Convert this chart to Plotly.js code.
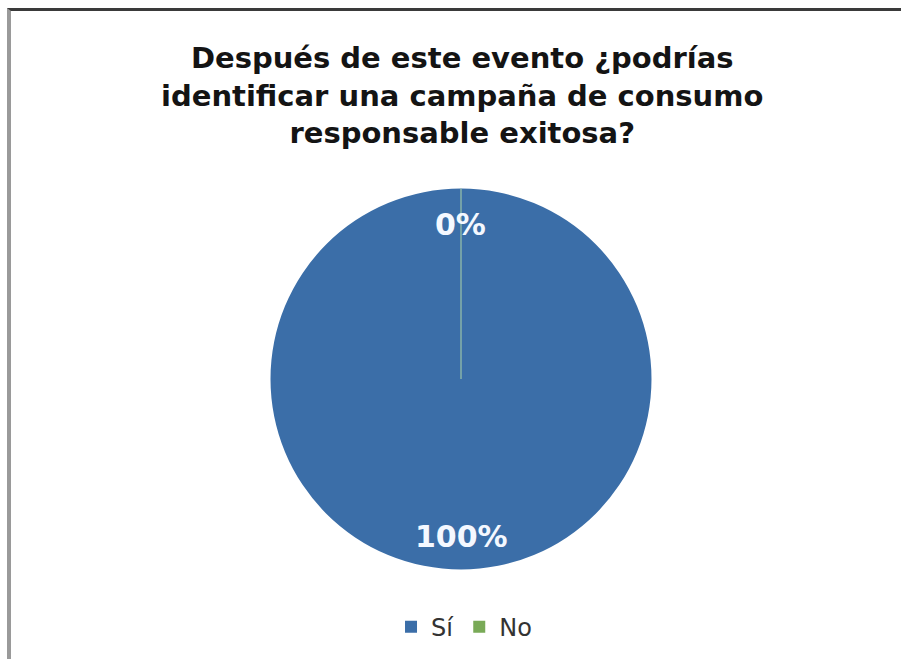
<!DOCTYPE html>
<html>
<head>
<meta charset="utf-8">
<script src="https://cdn.plot.ly/plotly-3.0.1.min.js"></script>
<style>
html,body{margin:0;padding:0;background:#fff;}
#frame{position:absolute;left:7px;top:8px;width:894px;height:651px;border-top:3px solid #3a3a3a;border-left:4px solid #9a9a9a;box-sizing:border-box;}
#chart{position:absolute;left:0;top:0;width:901px;height:659px;}
</style>
</head>
<body>
<div id="chart"></div>
<div id="frame"></div>
<script>
const titleText = 'Después de este evento ¿podrías<br>identificar una campaña de consumo<br>responsable exitosa?';
const labels = ['Sí', 'No'];
const values = [100, 0];
const colors = ['#3b6ea8', '#79aa57'];

const W = 901, H = 659;
const cx = 461, cy = 379, R = 190.5;
const domX = [(cx - R) / W, (cx + R) / W];
const domY = [1 - (cy + R) / H, 1 - (cy - R) / H];
const FONT = 'DejaVu Sans, Liberation Sans, Arial, sans-serif';

const total = values.reduce((a, b) => a + b, 0);
const annotations = [];
let acc = 0;
values.forEach((v, i) => {
  const frac = v / total;
  const mid = (acc + frac / 2) * 2 * Math.PI; // clockwise from top
  acc += frac;
  const rr = 0.82 * R;
  const px = cx + rr * Math.sin(mid);
  const py = cy - rr * Math.cos(mid);
  annotations.push({
    x: px / W, y: 1 - (py + 1.5) / H, xref: 'paper', yref: 'paper',
    text: Math.round(frac * 100) + '%', showarrow: false,
    font: {family: FONT, size: 30, color: '#f4f8ff', weight: 'bold'},
    xanchor: 'center', yanchor: 'middle'
  });
});

const data = [{
  type: 'pie',
  labels: labels,
  values: values,
  sort: false,
  direction: 'clockwise',
  rotation: 0,
  marker: {colors: colors, line: {width: 0}},
  textinfo: 'none',
  hoverinfo: 'label+percent',
  domain: {x: domX, y: domY},
  showlegend: true
}];

const layout = {
  width: W, height: H,
  margin: {l: 0, r: 0, t: 0, b: 0},
  paper_bgcolor: '#ffffff',
  plot_bgcolor: '#ffffff',
  title: {
    text: titleText,
    font: {family: FONT, size: 29, color: '#141414', weight: 'bold'},
    x: 0.513, xanchor: 'center', y: 0.897, yanchor: 'top'
  },
  legend: {
    orientation: 'h', x: 0.515, xanchor: 'center', y: 0.014, yanchor: 'bottom',
    font: {family: FONT, size: 24, color: '#333333'},
    itemwidth: 30, traceorder: 'normal'
  },
  shapes: [{
    type: 'line', xref: 'paper', yref: 'paper',
    x0: cx / W, x1: cx / W, y0: 1 - cy / H, y1: 1 - (cy - R) / H,
    line: {color: '#9cc4a8', width: 1.2}
  }],
  annotations: annotations
};

Plotly.newPlot('chart', data, layout, {displayModeBar: false, staticPlot: true});
</script>
</body>
</html>
